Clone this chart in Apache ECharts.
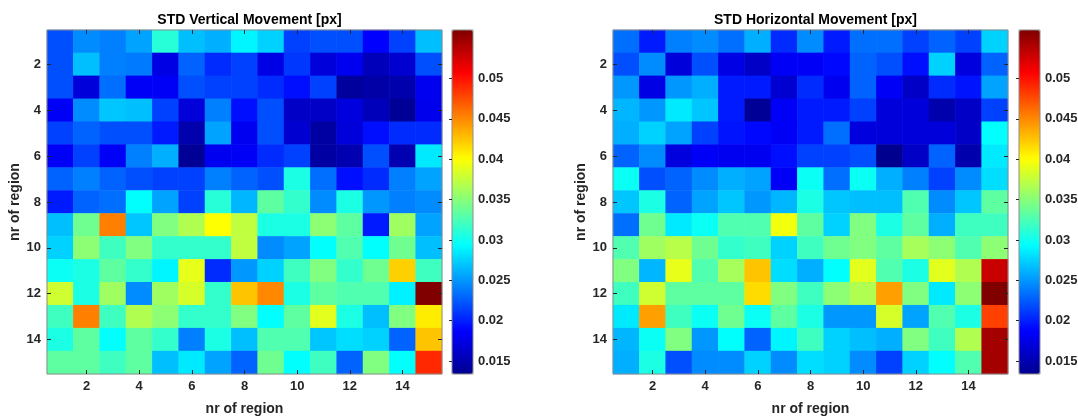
<!DOCTYPE html>
<html>
<head>
<meta charset="utf-8">
<script src="https://cdn.jsdelivr.net/npm/echarts@6.0.0/dist/echarts.min.js"></script>
<style>
html, body { margin: 0; padding: 0; background: #fff; }
#chart { width: 1078px; height: 417px; }
</style>
</head>
<body>
<div id="chart"></div>
<script>
// regions on both axes
const regions = ['1','2','3','4','5','6','7','8','9','10','11','12','13','14','15'];
const colorTicks = [0.015, 0.02, 0.025, 0.03, 0.035, 0.04, 0.045, 0.05];
const colorMin = 0.0134;
const colorMax = 0.056;
// matlab jet, sampled every 1/8
const jet = ['#00008f','#0000ff','#0080ff','#00ffff','#80ff80','#ffff00','#ff8000','#ff0000','#800000'];

// row = region on y (1 at top), column = region on x
const verticalStd = [
  [0.022, 0.0245, 0.024, 0.0255, 0.031, 0.0267, 0.026, 0.029, 0.0275, 0.0214, 0.022, 0.022, 0.0187, 0.0214, 0.0267],
  [0.022, 0.0267, 0.024, 0.0238, 0.0175, 0.0228, 0.0205, 0.0214, 0.0175, 0.021, 0.017, 0.018, 0.0155, 0.0165, 0.022],
  [0.022, 0.017, 0.0233, 0.0183, 0.0183, 0.022, 0.0214, 0.0214, 0.0205, 0.0193, 0.0214, 0.014, 0.0145, 0.0148, 0.018],
  [0.0183, 0.0245, 0.027, 0.0267, 0.0214, 0.017, 0.024, 0.0193, 0.022, 0.016, 0.016, 0.0172, 0.0155, 0.0138, 0.0178],
  [0.0214, 0.0228, 0.022, 0.022, 0.0198, 0.0148, 0.0255, 0.018, 0.022, 0.0165, 0.0143, 0.017, 0.0193, 0.0205, 0.0205],
  [0.0183, 0.0214, 0.0183, 0.024, 0.026, 0.0138, 0.018, 0.0183, 0.0205, 0.0214, 0.0143, 0.015, 0.022, 0.015, 0.0285],
  [0.0228, 0.024, 0.0228, 0.022, 0.0214, 0.0214, 0.024, 0.0228, 0.022, 0.0305, 0.0233, 0.0193, 0.0205, 0.024, 0.0255],
  [0.0198, 0.0228, 0.0233, 0.0294, 0.0255, 0.0214, 0.031, 0.0263, 0.0333, 0.0315, 0.0245, 0.0305, 0.025, 0.024, 0.0245],
  [0.0267, 0.034, 0.0454, 0.027, 0.0347, 0.0367, 0.040, 0.0374, 0.0305, 0.0305, 0.0352, 0.0333, 0.0198, 0.036, 0.0255],
  [0.0275, 0.0352, 0.032, 0.0347, 0.0315, 0.0315, 0.0315, 0.0374, 0.0245, 0.0255, 0.0294, 0.0327, 0.0294, 0.034, 0.0267],
  [0.0298, 0.0305, 0.0333, 0.0315, 0.029, 0.039, 0.0205, 0.025, 0.0275, 0.032, 0.0347, 0.0315, 0.034, 0.042, 0.032],
  [0.038, 0.0305, 0.036, 0.0245, 0.036, 0.0383, 0.0315, 0.0425, 0.045, 0.0305, 0.0333, 0.0327, 0.0327, 0.0288, 0.056],
  [0.032, 0.0454, 0.032, 0.0367, 0.0352, 0.0315, 0.0315, 0.0347, 0.0294, 0.0333, 0.0388, 0.0305, 0.0267, 0.0347, 0.0408],
  [0.0305, 0.0333, 0.0294, 0.0333, 0.0315, 0.024, 0.0305, 0.0267, 0.0327, 0.0327, 0.027, 0.028, 0.0275, 0.0228, 0.0425],
  [0.0333, 0.0333, 0.032, 0.0333, 0.0267, 0.0285, 0.0255, 0.0228, 0.034, 0.0294, 0.032, 0.0228, 0.0347, 0.0294, 0.049]
];

const horizontalStd = [
  [0.0233, 0.0198, 0.024, 0.0245, 0.0233, 0.026, 0.0205, 0.0245, 0.0198, 0.0233, 0.0233, 0.0214, 0.0228, 0.0214, 0.0275],
  [0.022, 0.0245, 0.017, 0.022, 0.0175, 0.016, 0.0183, 0.0183, 0.019, 0.0228, 0.022, 0.0193, 0.0275, 0.0172, 0.0228],
  [0.025, 0.0175, 0.025, 0.026, 0.0198, 0.0198, 0.0165, 0.0205, 0.018, 0.0228, 0.0183, 0.016, 0.0205, 0.0195, 0.0255],
  [0.0263, 0.025, 0.0285, 0.027, 0.0198, 0.0138, 0.0183, 0.0198, 0.0198, 0.0214, 0.017, 0.017, 0.0148, 0.016, 0.0214],
  [0.026, 0.0275, 0.0255, 0.0214, 0.0195, 0.019, 0.0183, 0.0198, 0.0233, 0.0172, 0.017, 0.017, 0.017, 0.016, 0.0294],
  [0.0228, 0.0245, 0.0172, 0.0183, 0.018, 0.018, 0.0193, 0.0214, 0.0214, 0.022, 0.0134, 0.016, 0.0228, 0.0148, 0.0285],
  [0.0298, 0.022, 0.0228, 0.0245, 0.026, 0.0255, 0.0183, 0.0298, 0.0233, 0.0298, 0.026, 0.024, 0.0214, 0.0245, 0.028],
  [0.027, 0.0305, 0.0228, 0.0255, 0.027, 0.025, 0.0263, 0.0305, 0.027, 0.0267, 0.0267, 0.0327, 0.0245, 0.027, 0.0333],
  [0.0233, 0.034, 0.0285, 0.0298, 0.0327, 0.0327, 0.0395, 0.0333, 0.0275, 0.0347, 0.0305, 0.0333, 0.026, 0.032, 0.032],
  [0.0327, 0.036, 0.037, 0.034, 0.0315, 0.032, 0.0275, 0.032, 0.034, 0.0347, 0.0333, 0.0363, 0.0352, 0.0327, 0.0352],
  [0.0347, 0.0263, 0.039, 0.0327, 0.0363, 0.0425, 0.028, 0.026, 0.0294, 0.0388, 0.0327, 0.0305, 0.0388, 0.0367, 0.053],
  [0.032, 0.038, 0.0333, 0.0333, 0.0333, 0.0415, 0.0347, 0.032, 0.0352, 0.0367, 0.044, 0.0347, 0.0285, 0.0352, 0.056],
  [0.0285, 0.044, 0.032, 0.0298, 0.034, 0.0298, 0.0333, 0.0305, 0.025, 0.025, 0.0383, 0.0255, 0.0327, 0.0305, 0.048],
  [0.0263, 0.0298, 0.0347, 0.025, 0.0294, 0.0228, 0.029, 0.032, 0.0275, 0.0267, 0.026, 0.0347, 0.032, 0.0367, 0.0545],
  [0.026, 0.0305, 0.022, 0.0245, 0.0245, 0.0275, 0.0245, 0.028, 0.0275, 0.0245, 0.0214, 0.0275, 0.0294, 0.0327, 0.0545]
];

const textColor = '#262626';
const frameColor = '#8c8c8c';
const font = 'Liberation Sans, Arial, Helvetica, sans-serif';

function toCells(rows) {
  const out = [];
  rows.forEach((row, r) => row.forEach((v, c) => out.push([c, r, v])));
  return out;
}

const everyOther = (i) => i % 2 === 1;

function catAxis(grid, pos, withLabels, name) {
  const isY = pos === 'left' || pos === 'right';
  return {
    type: 'category',
    gridIndex: grid,
    position: pos,
    data: regions,
    inverse: isY,
    z: 11,
    axisLine: { show: false },
    axisTick: { show: true, inside: true, length: 4, alignWithLabel: true, interval: everyOther,
      lineStyle: { color: textColor, width: 1 } },
    axisLabel: { show: withLabels, interval: everyOther, color: textColor, fontFamily: font,
      fontWeight: 'bold', fontSize: 13, margin: 6 },
    splitLine: { show: false },
    name: name || '',
    nameLocation: 'middle',
    nameGap: isY ? 22 : 28,
    nameTextStyle: { color: textColor, fontFamily: font, fontWeight: 'bold', fontSize: 14 }
  };
}

const panels = [
  { left: 47, bar: 452, title: 'STD Vertical Movement [px]', data: verticalStd },
  { left: 613, bar: 1019, title: 'STD Horizontal Movement [px]', data: horizontalStd }
];

const grids = [], xAxes = [], yAxes = [], series = [], visualMaps = [], titles = [];

panels.forEach((p, i) => {
  // heatmap grid
  grids.push({ left: p.left, top: 30, width: 395, height: 344, show: true, z: 10,
    outerBoundsMode: 'none', containLabel: false,
    backgroundColor: 'transparent', borderColor: frameColor, borderWidth: 1 });
  const g = grids.length - 1;
  xAxes.push(catAxis(g, 'bottom', true, 'nr of region'));
  xAxes.push(catAxis(g, 'top', false));
  yAxes.push(catAxis(g, 'left', true, 'nr of region'));
  yAxes.push(catAxis(g, 'right', false));
  series.push({
    type: 'heatmap',
    xAxisIndex: xAxes.length - 2,
    yAxisIndex: yAxes.length - 2,
    data: toCells(p.data),
    itemStyle: { borderWidth: 0 },
    emphasis: { disabled: true },
    progressive: 0
  });
  visualMaps.push({
    type: 'continuous',
    seriesIndex: series.length - 1,
    dimension: 2,
    min: colorMin,
    max: colorMax,
    calculable: false,
    hoverLink: false,
    inRange: { color: jet },
    orient: 'vertical',
    left: p.bar,
    top: 30,
    padding: 0,
    itemWidth: 21,
    itemHeight: 344,
    text: null
  });

  // colorbar frame + ticks
  grids.push({ left: p.bar, top: 30, width: 21, height: 344, show: true, z: 10,
    outerBoundsMode: 'none', containLabel: false,
    backgroundColor: 'transparent', borderColor: frameColor, borderWidth: 1 });
  const cg = grids.length - 1;
  xAxes.push({ type: 'value', gridIndex: cg, show: false, min: 0, max: 1 });
  yAxes.push({
    type: 'value', gridIndex: cg, position: 'right', min: colorMin, max: colorMax, z: 11,
    axisLine: { show: false },
    axisTick: { show: true, inside: true, length: 3, customValues: colorTicks,
      lineStyle: { color: textColor } },
    axisLabel: { customValues: colorTicks, color: textColor, fontFamily: font, fontWeight: 'bold',
      fontSize: 13, margin: 5, formatter: (v) => String(v) },
    splitLine: { show: false }
  });

  titles.push({
    text: p.title,
    left: p.left + 197.5,
    top: 8,
    textAlign: 'center',
    textStyle: { color: '#000', fontFamily: font, fontWeight: 'bold', fontSize: 14 }
  });
});

const chart = echarts.init(document.getElementById('chart'), null, { renderer: 'canvas' });
chart.setOption({
  backgroundColor: '#fff',
  animation: false,
  title: titles,
  grid: grids,
  xAxis: xAxes,
  yAxis: yAxes,
  visualMap: visualMaps,
  series: series
});
</script>
</body>
</html>
